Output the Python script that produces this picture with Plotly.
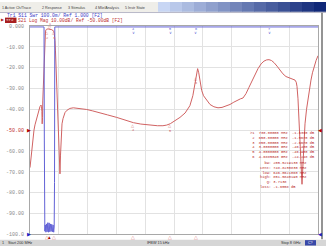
import plotly.graph_objects as go

# ---------------- data ----------------
s21_freq_mhz = [200, 227, 254, 281, 308, 335, 362, 390, 417, 444, 470, 498, 512, 522, 530, 539, 546, 556,
                565, 579, 593, 606, 620, 635, 650, 690, 730, 790, 850, 863, 877, 890, 904, 917, 931, 944,
                958, 971, 985, 998, 1012, 1026, 1040, 1053, 1067, 1094, 1121, 1148, 1200, 1280, 1373, 1500,
                1735, 1900, 2096, 2300, 2548, 2800, 3000, 3200, 3450, 3650, 3800, 3900, 4000, 4130, 4262,
                4400, 4530, 4610, 4688, 4720, 4740, 4770, 4804, 4850, 4900, 4966, 5075, 5180, 5292, 5400,
                5481, 5617, 5720, 5806, 5900, 5969, 6050, 6130, 6212, 6300, 6375, 6460, 6537, 6610, 6673,
                6740, 6808, 6890, 6971, 7050, 7133, 7242, 7320, 7377, 7410, 7431, 7458, 7485, 7512, 7540,
                7567, 7594, 7621, 7648, 7690, 7729, 7770, 7810, 7850, 7892, 7950, 8000]
s21_db = [-68.0, -63.0, -57.5, -53.0, -50.0, -47.5, -45.5, -43.3, -41.5, -40.0, -38.7, -38.0, -38.6, -41.0,
          -47.0, -44.0, -36.0, -30.0, -25.0, -16.0, -8.0, -4.0, -2.5, -1.9, -1.567, -1.45, -1.633, -1.8,
          -2.667, -4.0, -7.0, -12.0, -20.0, -26.0, -32.0, -38.5, -45.0, -51.5, -58.0, -65.0, -71.0, -62.0,
          -53.0, -49.5, -47.0, -44.5, -42.8, -41.6, -40.5, -39.6, -39.3, -39.5, -40.1, -40.8, -41.6, -42.7,
          -43.9, -45.3, -46.43, -47.1, -47.7, -47.9, -47.9, -47.6, -46.93, -45.5, -43.9, -41.8, -38.3,
          -33.5, -24.248, -21.0, -20.5, -22.5, -27.0, -31.0, -33.5, -35.3, -37.7, -38.8, -39.3, -39.1,
          -38.6, -37.7, -36.6, -35.7, -35.0, -34.6, -32.5, -29.5, -26.5, -23.0, -20.5, -18.2, -16.9,
          -16.3, -16.2, -16.6, -17.6, -19.3, -21.2, -23.0, -24.3, -25.2, -25.7, -26.0, -27.0, -29.0,
          -35.0, -45.0, -56.0, -66.0, -76.0, -66.0, -55.0, -47.0, -40.0, -35.0, -30.0, -26.0, -22.5,
          -19.5, -16.5, -14.3]

# S11 SWR (values above 2.0 are shown clipped at the top of the grid, as on the instrument)
s11_freq_mhz = [200, 580, 588, 594, 602, 614, 630, 647, 664, 682, 700, 718, 736, 754, 772, 790,
                808, 826, 842, 855, 864, 872, 8000]
s11_swr = [2.0, 2.0, 1.45, 1.08, 1.015, 1.045, 1.01, 1.05, 1.012, 1.056, 1.01, 1.055, 1.012, 1.05,
           1.014, 1.048, 1.012, 1.045, 1.01, 1.035, 1.25, 2.0, 2.0]

marker_ids = ["1", "2", "3", "4", "5", "6"]
marker_freq_mhz = [730.0, 650.0, 850.0, 3000.0, 4000.0, 4688.504]
marker_freq_text = ["730.00000 MHz", "650.00000 MHz", "850.00000 MHz",
                    "3.0000000 GHz", "4.0000000 GHz", "4.6885040 GHz"]
marker_db_text = ["-1.6330 dB", "-1.5670 dB", "-2.6670 dB", "-46.430 dB", "-46.930 dB", "-24.248 dB"]
s11_marker_freq_mhz = [3000.0, 4000.0, 4688.504, 6673.0]
s11_marker_ids = ["4", "5", "6", "7"]

bw_labels = ["bw:", "cent:", "low:", "high:", "Q:", "loss:"]
bw_values = ["205.5219130 MHz", "748.8230830 MHz", "646.0621060 MHz", "851.5840190 MHz",
             "3.7138", "-1.6558 dB"]

y_tick_vals = [0, -10, -20, -30, -40, -50, -60, -70, -80, -90, -100]
y_tick_text = ["0.000", "-10.00", "-20.00", "-30.00", "-40.00", "-50.00",
               "-60.00", "-70.00", "-80.00", "-90.00", "-100.0"]
menu_items = ["1 Active Ch/Trace", "2 Response", "3 Stimulus", "4 Mkr/Analysis", "5 Instr State"]

# ---------------- layout helpers ----------------
W, H = 326, 250
def px(x):
    return x / W
def py(y):
    return 1 - y / H

RED = "#d06262"
BLUE = "#6262d6"
MONO = "Liberation Mono, DejaVu Sans Mono, monospace"
SANS = "Liberation Sans, Arial, sans-serif"

fig = go.Figure()
fig.add_trace(go.Scatter(x=s21_freq_mhz, y=s21_db, mode="lines",
                         line=dict(color=RED, width=1), yaxis="y", hoverinfo="skip"))
fig.add_trace(go.Scatter(x=s11_freq_mhz, y=s11_swr, mode="lines",
                         line=dict(color=BLUE, width=1), yaxis="y2", hoverinfo="skip"))

ticktext = [("<span style='color:#c03030'>%s</span>" % t) if v == -50 else t
            for v, t in zip(y_tick_vals, y_tick_text)]

fig.update_layout(
    width=W, height=H, margin=dict(l=0, r=0, t=0, b=0),
    paper_bgcolor="white", plot_bgcolor="white", showlegend=False,
    xaxis=dict(domain=[px(30), px(318)], range=[200, 8000], tick0=200, dtick=780,
               showticklabels=False, showgrid=True, gridcolor="#e2e2e2", gridwidth=1,
               zeroline=False, showline=True, mirror=True, linecolor="#a8a8a8", linewidth=1,
               ticks=""),
    yaxis=dict(domain=[py(238), py(24.5)], range=[-100, 0], tickvals=y_tick_vals, ticktext=ticktext,
               tickfont=dict(family=MONO, size=5, color="#8a8a8a"), ticks="", ticklabelstandoff=4,
               showgrid=True, gridcolor="#e2e2e2", gridwidth=1, zeroline=False,
               showline=True, mirror=True, linecolor="#a8a8a8", linewidth=1),
    yaxis2=dict(overlaying="y", range=[1.0, 2.005], visible=False),
)

shapes = []
ann = []

def text(x, y, s, color="#333", size=4, family=MONO, xanchor="left", xref="paper", yref="paper",
         bg=None):
    d = dict(x=x, y=y, xref=xref, yref=yref, text=s, showarrow=False, xanchor=xanchor,
             yanchor="middle", font=dict(family=family, size=size, color=color),
             borderpad=0, borderwidth=0)
    if bg:
        d["bgcolor"] = bg
    ann.append(d)

# menu bar
shapes.append(dict(type="rect", xref="paper", yref="paper", x0=0, x1=1, y0=py(10.5), y1=1,
                   fillcolor="#efeee9", line=dict(width=0), layer="below"))
menu_x = [2, 42, 68, 95, 125]
for mx, m in zip(menu_x, menu_items):
    text(px(mx), py(5.8), m, color="#404040", size=3.7, family=SANS)
# blue title gradient on the right
n = 14
x0 = 158
for i in range(n):
    t = i / (n - 1)
    r = int(200 + (16 - 200) * t)
    g = int(214 + (40 - 214) * t)
    b = int(244 + (120 - 244) * t)
    xa = x0 + (W - x0) * i / n
    xb = x0 + (W - x0) * (i + 1) / n + 0.5
    shapes.append(dict(type="rect", xref="paper", yref="paper", x0=px(xa), x1=px(xb),
                       y0=py(10), y1=1, fillcolor="rgb(%d,%d,%d)" % (r, g, b), line=dict(width=0)))
shapes.append(dict(type="line", xref="paper", yref="paper", x0=0, x1=1, y0=py(10.8), y1=py(10.8),
                   line=dict(color="#b8b8c8", width=1)))

# trace header lines
text(px(7), py(13.4), "Tr1 S11 Swr 100.0m/ Ref 1.000 [F2]", color="#4040c8", size=4.7)
text(px(0.5), py(18.7), "\u25b6", color="#b02020", size=3.5, family=SANS)
shapes.append(dict(type="rect", xref="paper", yref="paper", x0=px(5), x1=px(16.5), y0=py(21.5),
                   y1=py(16), fillcolor="#a82020", line=dict(width=0)))
text(px(6), py(18.8), "Tr2", color="white", size=4.2)
text(px(18), py(18.8), "S21 Log Mag 10.00dB/ Ref -50.00dB [F2]", color="#c03030", size=4.6)

# right dark strip
shapes.append(dict(type="line", xref="paper", yref="paper", x0=px(322), x1=px(322), y0=py(243),
                   y1=py(11), line=dict(color="#707070", width=1.5)))

# reference arrows
text(px(26.5), py(131.2), "\u25b6", color="#b00000", size=4.5, family=SANS)
text(px(26.5), py(238), "\u25b6", color="#2020c0", size=4.5, family=SANS)
text(px(322), py(131.8), "\u25c0", color="#b00000", size=4.5, family=SANS, xanchor="right")
text(px(322), py(238), "\u25c0", color="#2020c0", size=4.5, family=SANS, xanchor="right")

# S21 marker glyphs near the trace
glyph_y = {"1": (26.0, 22.8, "\u25bd"), "2": (31.5, 36.5, "\u25b3"), "3": (31.5, 36.5, "\u25b3"),
           "4": (126.5, 131.5, "\u25b3"), "5": (127.0, 132.0, "\u25b3"), "6": (78.5, 83.5, "\u25b3")}
for mid, f in zip(marker_ids, marker_freq_mhz):
    ty, ny, sym = glyph_y[mid]
    text(f, py(ty), sym, color=RED, size=4, family=SANS, xanchor="center", xref="x")
    text(f, py(ny), mid, color=RED, size=3.6, xanchor="center", xref="x")

# S21 marker indicators under the grid
for mid, f in zip(marker_ids, marker_freq_mhz):
    sym = "\u25b2" if mid == "1" else "\u25b3"
    col = "#a00000" if mid == "1" else "#e07878"
    text(f, py(241), sym, color=col, size=4.6, family=SANS, xanchor="center", xref="x")

# S11 marker glyphs clipped at the top
for mid, f in zip(s11_marker_ids, s11_marker_freq_mhz):
    text(f, py(27.2), mid, color=BLUE, size=3.6, xanchor="center", xref="x")
    text(f, py(31.5), "\u2228", color=BLUE, size=4, family=SANS, xanchor="center", xref="x")

# marker table
rows = []
for i, (mid, ft, vt) in enumerate(zip(marker_ids, marker_freq_text, marker_db_text)):
    lead = ">" if i == 0 else " "
    rows.append("%s%s  %s  %s" % (lead, mid, ft, vt.rjust(10)))
ann.append(dict(x=px(248.5), y=py(146.7), xref="paper", yref="paper", text="<br>".join(rows),
                showarrow=False, xanchor="left", yanchor="middle", align="left",
                font=dict(family=MONO, size=3.7, color="#b82828"), borderpad=0))
rows2 = ["%s %s" % (l.rjust(5), v) for l, v in zip(bw_labels, bw_values)]
ann.append(dict(x=px(259), y=py(177.7), xref="paper", yref="paper", text="<br>".join(rows2),
                showarrow=False, xanchor="left", yanchor="middle", align="left",
                font=dict(family=MONO, size=3.7, color="#b82828"), borderpad=0))

# status bar
shapes.append(dict(type="rect", xref="paper", yref="paper", x0=0, x1=1, y0=0, y1=py(243.5),
                   fillcolor="#d6d6d6", line=dict(width=0)))
text(px(2), py(246.8), "1", color="#303030", size=3.8, family=SANS)
text(px(8), py(246.8), "Start 200 MHz", color="#303030", size=3.8, family=SANS)
text(px(147), py(246.8), "IFBW 15 kHz", color="#303030", size=3.8, family=SANS)
text(px(281), py(246.8), "Stop 8 GHz", color="#303030", size=3.8, family=SANS)
shapes.append(dict(type="rect", xref="paper", yref="paper", x0=px(305), x1=px(316), y0=py(249.5),
                   y1=py(244), fillcolor="#3848a8", line=dict(width=0)))
text(px(310.5), py(246.8), "C?", color="white", size=3.6, family=SANS, xanchor="center")

fig.update_layout(shapes=shapes, annotations=ann)
fig.write_html("out.html")
